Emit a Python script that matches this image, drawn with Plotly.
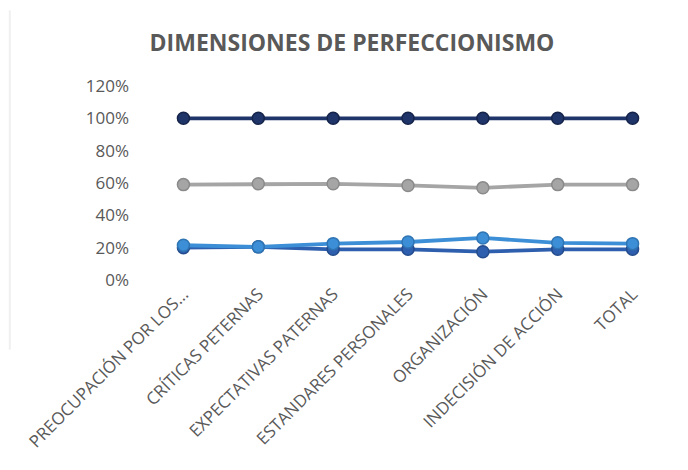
import plotly.graph_objects as go

categories = ["PREOCUPACIÓN POR LOS...", "CRÍTICAS PETERNAS", "EXPECTATIVAS PATERNAS",
              "ESTANDARES PERSONALES", "ORGANIZACIÓN", "INDECISIÓN DE ACCIÓN", "TOTAL"]
serie_total = [1.00, 1.00, 1.00, 1.00, 1.00, 1.00, 1.00]
serie_gris = [0.59, 0.595, 0.595, 0.585, 0.57, 0.59, 0.59]
serie_media = [0.20, 0.205, 0.19, 0.19, 0.175, 0.19, 0.19]
serie_clara = [0.215, 0.205, 0.225, 0.235, 0.26, 0.23, 0.225]
y_ticks = [0, 0.2, 0.4, 0.6, 0.8, 1.0, 1.2]

fig = go.Figure()

def add(vals, color, edge):
    fig.add_trace(go.Scatter(
        x=categories, y=vals, mode="lines+markers",
        line=dict(color=color, width=3.8),
        marker=dict(size=12, color=color, line=dict(color=edge, width=1.5)),
        showlegend=False, hoverinfo="skip"))

add(serie_total, "#1F3468", "#15244a")
add(serie_gris, "#A5A5A5", "#8a8a8a")
add(serie_media, "#2E5FAE", "#244c8c")
add(serie_clara, "#3C8FD6", "#2f74b3")

fig.update_layout(
    width=688, height=470,
    margin=dict(l=138, r=26, t=78, b=198),
    paper_bgcolor="white", plot_bgcolor="white",
    title=dict(text="<b>DIMENSIONES DE PERFECCIONISMO</b>", x=0.5, xanchor="center",
               y=0.925, yanchor="middle",
               font=dict(family="Open Sans", size=23, color="#595959")),
    font=dict(family="Open Sans", size=16, color="#595959"),
    shapes=[dict(type="line", xref="paper", yref="paper", x0=-0.26, x1=-0.26,
                 y0=-0.36, y1=1.39, line=dict(color="#f0f0f0", width=2))],
)
fig.update_xaxes(type="category", range=[-0.5, 6.5], tickangle=-45, showgrid=False,
                 showline=False, ticks="", tickfont=dict(size=17, color="#595959"))
fig.update_yaxes(range=[0, 1.2], tickvals=y_ticks, tickformat=".0%", showgrid=False,
                 zeroline=False, showline=False, ticks="", ticklabelstandoff=16,
                 tickfont=dict(size=17, color="#595959"))

fig.write_html("out.html")
